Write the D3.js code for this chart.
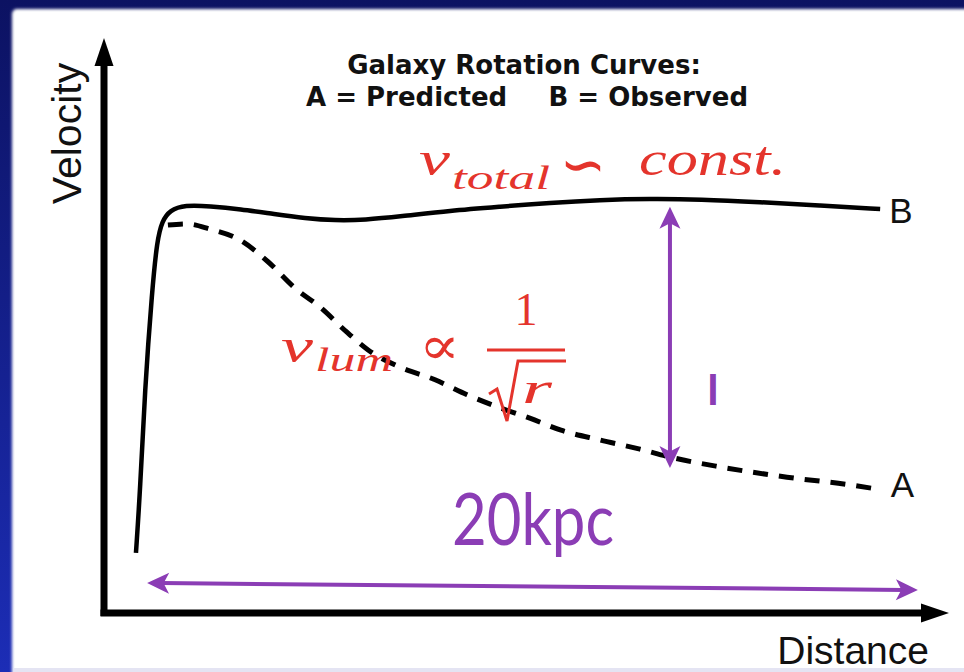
<!DOCTYPE html>
<html>
<head>
<meta charset="utf-8">
<script src="https://cdn.jsdelivr.net/npm/d3@7"></script>
<style>
  html, body { margin: 0; padding: 0; background: #fff; }
  svg { display: block; }
</style>
</head>
<body>
<svg id="svg"></svg>
<script>
var width = 964, height = 672;

// B = observed curve (distance in kpc, velocity in relative units)
var observedR = [0.83, 0.94, 1.06, 1.25, 1.38, 1.51, 1.71, 2.10, 2.75, 3.53, 4.44, 5.22, 6.00, 6.78, 7.69, 8.99, 10.29, 11.58, 12.88, 14.18, 15.48, 17.04, 18.60, 20.16];
var observedV = [10.5, 21.5, 38.9, 56.4, 65.1, 68.4, 70.3, 71.2, 71.0, 70.5, 69.6, 68.9, 68.5, 68.6, 69.2, 70.2, 70.9, 71.6, 72.1, 72.3, 72.2, 71.7, 71.1, 70.5];

// A = predicted (luminous matter) curve
var predictedR = [1.66, 2.16, 2.75, 3.53, 4.26, 4.96, 5.61, 6.31, 6.86, 7.69, 8.6, 9.43, 10.21, 11.06, 11.87, 12.88, 13.92, 14.71, 16.0, 17.74, 19.45, 20.1];
var predictedV = [67.7, 67.9, 67.0, 65.1, 61.3, 56.7, 53.4, 49.0, 45.9, 42.9, 40.7, 38.1, 36.0, 34.0, 31.9, 30.2, 28.6, 27.2, 25.5, 23.7, 22.3, 21.6];

// annotation arrows
var gapR = 14.7, gapFrom = 25.3, gapTo = 70.9;          // vertical arrow between A and B
var spanR = [1.12, 21.14], spanV = [5.24, 4.01];         // 20 kpc span

var titleLine1 = "Galaxy Rotation Curves:";
var titleLine2 = ["A = Predicted", "B = Observed"];
var curveLabels = ["A", "B"];
var xTitle = "Distance", yTitle = "Velocity";
var spanLabel = "20kpc";

var red = "#e4342c", purple = "#8b3db5";

var svg = d3.select("#svg").attr("width", width).attr("height", height);

var xScale = d3.scaleLinear().domain([0, 22]).range([104, 951]);
var yScale = d3.scaleLinear().domain([0, 100]).range([613, 40]);

// slide frame
var defs = svg.append("defs");
var grad = defs.append("linearGradient").attr("id", "frameGrad")
	.attr("x1", 0).attr("y1", 0).attr("x2", 0).attr("y2", 1);
grad.append("stop").attr("offset", "0%").attr("stop-color", "#0c1262");
grad.append("stop").attr("offset", "100%").attr("stop-color", "#1c2db6");
defs.append("filter").attr("id", "soft")
	.attr("x", "-5%").attr("y", "-5%").attr("width", "110%").attr("height", "110%")
	.append("feGaussianBlur").attr("stdDeviation", 1.6);

svg.append("rect").attr("width", width).attr("height", height).attr("fill", "url(#frameGrad)");
svg.append("rect").attr("x", 12).attr("y", 9).attr("width", width + 20).attr("height", height + 20)
	.attr("rx", 5).attr("fill", "#fff").attr("filter", "url(#soft)");
svg.append("rect").attr("x", 14).attr("y", 668).attr("width", width).attr("height", 4).attr("fill", "#e4e4f3");

function arrowHead(g, tx, ty, angle, len, halfW, color, notch) {
	var dx = Math.cos(angle), dy = Math.sin(angle);
	var px = -dy, py = dx;
	var bx = tx - dx * len, by = ty - dy * len;
	var nx = tx - dx * len * notch, ny = ty - dy * len * notch;
	g.append("path")
		.attr("d", `M${tx},${ty}L${bx + px * halfW},${by + py * halfW}L${nx},${ny}L${bx - px * halfW},${by - py * halfW}Z`)
		.attr("fill", color);
}

// axes (no ticks)
var axes = svg.append("g");
var x0 = xScale(0), y0 = yScale(0);
axes.append("line").attr("x1", x0).attr("y1", y0 + 3).attr("x2", x0).attr("y2", 62)
	.attr("stroke", "#000").attr("stroke-width", 7);
axes.append("line").attr("x1", x0 - 3.5).attr("y1", y0).attr("x2", 926).attr("y2", y0)
	.attr("stroke", "#000").attr("stroke-width", 7);
arrowHead(axes, x0, 38, -Math.PI / 2, 28, 9.5, "#000", 1);
arrowHead(axes, 949, y0, 0, 28, 9.5, "#000", 1);

axes.append("text").text(yTitle)
	.attr("transform", `translate(81,${(60 + 207) / 2}) rotate(-90)`)
	.attr("text-anchor", "middle")
	.attr("font-family", "Liberation Sans, Arial, sans-serif")
	.attr("font-size", 41).attr("fill", "#111");
axes.append("text").text(xTitle)
	.attr("x", 929).attr("y", 664).attr("text-anchor", "end")
	.attr("font-family", "Liberation Sans, Arial, sans-serif")
	.attr("font-size", 39).attr("fill", "#111");

// title
var title = svg.append("g").attr("font-family", "DejaVu Sans, Verdana, sans-serif")
	.attr("font-weight", "bold").attr("font-size", 26).attr("fill", "#111");
title.append("text").text(titleLine1).attr("x", 524).attr("y", 74).attr("text-anchor", "middle");
title.append("text").text(titleLine2[0]).attr("x", 306).attr("y", 106);
title.append("text").text(titleLine2[1]).attr("x", 748).attr("y", 106).attr("text-anchor", "end");

// curves
var lineA = d3.line()
	.x(d => xScale(d[0]))
	.y(d => yScale(d[1]))
	.curve(d3.curveMonotoneX);
var lineB = d3.line()
	.x(d => xScale(d[0]))
	.y(d => yScale(d[1]))
	.curve(d3.curveBasis);

var observed = d3.zip(observedR, observedV);
var predicted = d3.zip(predictedR, predictedV);

svg.append("path").datum(predicted)
	.attr("fill", "none")
	.attr("stroke", "#000")
	.attr("stroke-width", 5)
	.attr("stroke-dasharray", "15,11")
	.attr("d", lineA);

svg.append("path").datum(observed)
	.attr("fill", "none")
	.attr("stroke", "#000")
	.attr("stroke-width", 4.5)
	.attr("stroke-linejoin", "round")
	.attr("d", lineB);

var lastA = predicted[predicted.length - 1], lastB = observed[observed.length - 1];
var labelG = svg.append("g").attr("font-family", "Liberation Sans, Arial, sans-serif")
	.attr("font-size", 35).attr("fill", "#111");
labelG.append("text").text(curveLabels[0]).attr("x", xScale(lastA[0]) + 13).attr("y", yScale(lastA[1]) + 8);
labelG.append("text").text(curveLabels[1]).attr("x", xScale(lastB[0]) + 9).attr("y", yScale(lastB[1]) + 14);

// purple annotations
var ann = svg.append("g");
var gx = xScale(gapR), gy1 = yScale(gapFrom), gy2 = yScale(gapTo);
ann.append("line").attr("x1", gx).attr("y1", gy1 - 12).attr("x2", gx).attr("y2", gy2 + 12)
	.attr("stroke", purple).attr("stroke-width", 4);
arrowHead(ann, gx, gy2, -Math.PI / 2, 22, 10.5, purple, 0.75);
arrowHead(ann, gx, gy1, Math.PI / 2, 22, 10.5, purple, 0.75);

var sx1 = xScale(spanR[0]), sy1 = yScale(spanV[0]), sx2 = xScale(spanR[1]), sy2 = yScale(spanV[1]);
var ang = Math.atan2(sy2 - sy1, sx2 - sx1);
ann.append("line")
	.attr("x1", sx1 + 14 * Math.cos(ang)).attr("y1", sy1 + 14 * Math.sin(ang))
	.attr("x2", sx2 - 14 * Math.cos(ang)).attr("y2", sy2 - 14 * Math.sin(ang))
	.attr("stroke", purple).attr("stroke-width", 4);
arrowHead(ann, sx2, sy2, ang, 22, 10.5, purple, 0.75);
arrowHead(ann, sx1, sy1, ang + Math.PI, 22, 10.5, purple, 0.75);

ann.append("text").text(spanLabel)
	.attr("x", 452).attr("y", 545)
	.attr("font-family", "Lato, sans-serif").attr("font-size", 71)
	.attr("textLength", 162).attr("lengthAdjust", "spacingAndGlyphs")
	.attr("fill", purple);
ann.append("text").text("I")
	.attr("x", 713).attr("y", 405).attr("text-anchor", "middle")
	.attr("font-family", "Lato, sans-serif").attr("font-weight", "bold").attr("font-size", 42)
	.attr("fill", purple);

// red formulas
var mathFont = "Liberation Serif, Times New Roman, serif";
function mathText(g, str, x, y, size, len, upright) {
	var t = g.append("text").text(str).attr("x", x).attr("y", y).attr("font-size", size);
	if (len) t.attr("textLength", len).attr("lengthAdjust", "spacingAndGlyphs");
	if (upright) t.attr("font-style", "normal");
	return t;
}
var f1 = svg.append("g").attr("fill", red).attr("font-family", mathFont).attr("font-style", "italic");
mathText(f1, "v", 419, 175, 48, 31);
mathText(f1, "total", 452, 189, 34, 98);
mathText(f1, "\u223D", 560, 186, 64, 46, true).attr("font-family", "DejaVu Sans, sans-serif");
mathText(f1, "const.", 639, 175, 48, 147);

var f2 = svg.append("g").attr("fill", red).attr("font-family", mathFont).attr("font-style", "italic");
mathText(f2, "v", 281, 362, 48, 32);
mathText(f2, "lum", 315, 371, 34, 78);
mathText(f2, "\u221D", 419, 364, 54, 41, true).attr("font-family", "DejaVu Serif, serif");
mathText(f2, "1", 526, 325, 46, null, true).attr("text-anchor", "middle");
f2.append("line").attr("x1", 487).attr("y1", 350).attr("x2", 565).attr("y2", 350)
	.attr("stroke", red).attr("stroke-width", 3);
f2.append("path").attr("d", "M489,394L497,389L507,421L518,361L566,361")
	.attr("fill", "none").attr("stroke", red).attr("stroke-width", 3).attr("stroke-linejoin", "miter");
mathText(f2, "r", 522, 403, 44, 30);
</script>
</body>
</html>
